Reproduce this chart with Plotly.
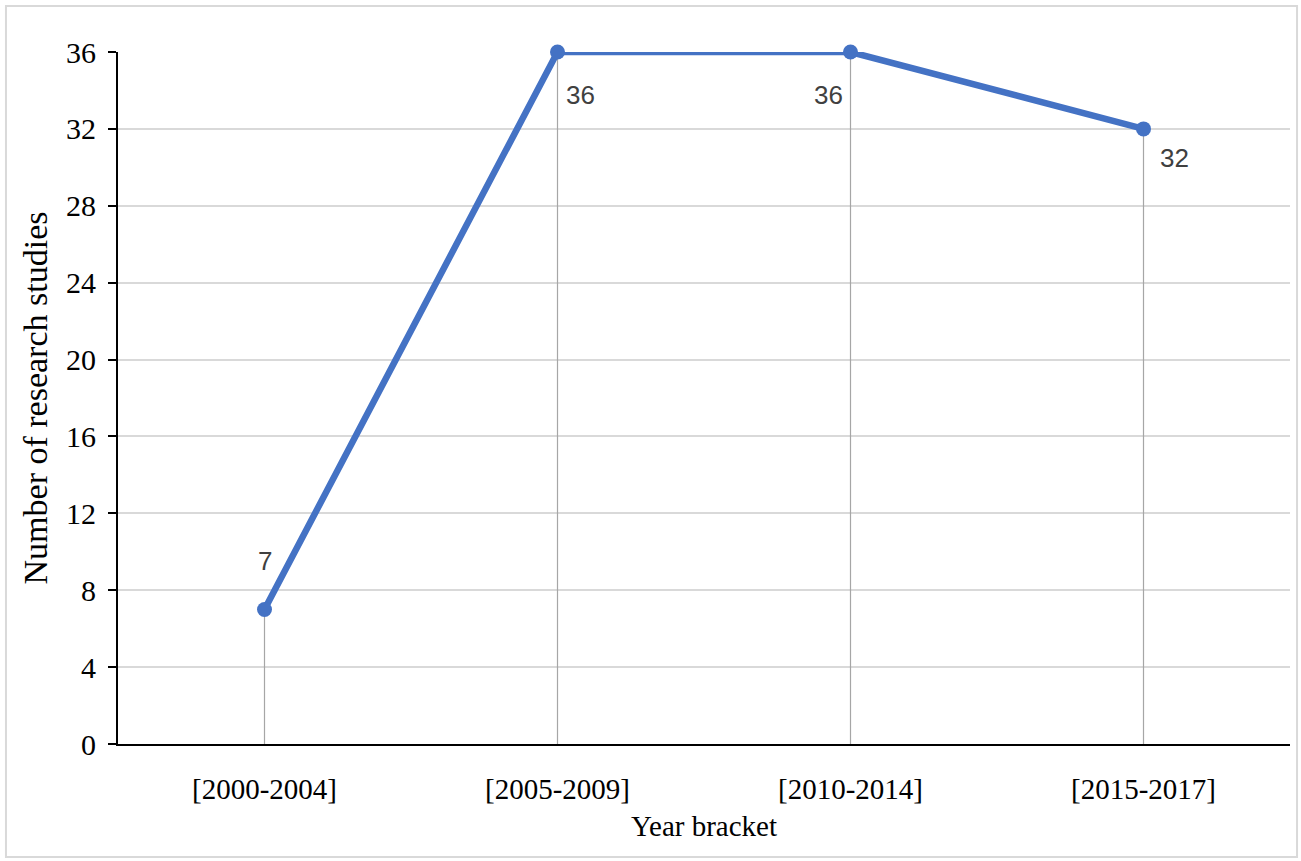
import plotly.graph_objects as go

categories = ["[2000-2004]", "[2005-2009]", "[2010-2014]", "[2015-2017]"]
studies = [7, 36, 36, 32]
label_xshift = [0, 23, -22, 31]
label_yshift = [48, -43, -43, -29]
y_ticks = [0, 4, 8, 12, 16, 20, 24, 28, 32, 36]

drop_x, drop_y = [], []
for c, v in zip(categories, studies):
    drop_x += [c, c, None]
    drop_y += [0, v, None]

fig = go.Figure()
fig.add_trace(go.Scatter(x=drop_x, y=drop_y, mode="lines",
                         line=dict(color="#a6a6a6", width=1.2),
                         hoverinfo="skip", showlegend=False))
fig.add_trace(go.Scatter(
    x=categories, y=studies, mode="lines+markers",
    line=dict(color="#4472C4", width=6.5),
    marker=dict(color="#4472C4", size=15),
    cliponaxis=False, showlegend=False))

for c, v, dx, dy in zip(categories, studies, label_xshift, label_yshift):
    fig.add_annotation(x=c, y=v, xref="x", yref="y", text=str(v),
                       showarrow=False, xshift=dx, yshift=dy,
                       font=dict(family="Liberation Sans, Arial", size=26,
                                 color="#404040"))

serif = "Liberation Serif, Times New Roman, serif"
fig.update_layout(
    width=1301, height=861,
    margin=dict(l=118, r=11, t=52, b=117),
    paper_bgcolor="white", plot_bgcolor="white",
    font=dict(family=serif, color="black", size=28),
    xaxis=dict(type="category", range=[-0.5, 3.5], showgrid=False,
               showline=True, linecolor="black", linewidth=2,
               ticks="", ticklabelstandoff=18,
               tickfont=dict(family=serif, size=29, color="black"),
               title=dict(text="Year bracket", standoff=12,
                          font=dict(family=serif, size=29, color="black"))),
    yaxis=dict(range=[0, 36], tickvals=y_ticks, showgrid=True,
               gridcolor="#d9d9d9", gridwidth=1.5, zeroline=False,
               showline=True, linecolor="black", linewidth=2,
               ticks="outside", ticklen=8, tickwidth=2, tickcolor="black",
               ticklabelstandoff=6,
               tickfont=dict(family=serif, size=30, color="black"),
               title=dict(text="Number of research studies", standoff=8,
                          font=dict(family=serif, size=34, color="black"))),
    shapes=[dict(type="rect", xref="paper", yref="paper",
                 x0=-0.0956, x1=1.006, y0=-0.1633, y1=1.0665,
                 line=dict(color="#d9d9d9", width=2), layer="below")],
)

fig.write_html("out.html")
